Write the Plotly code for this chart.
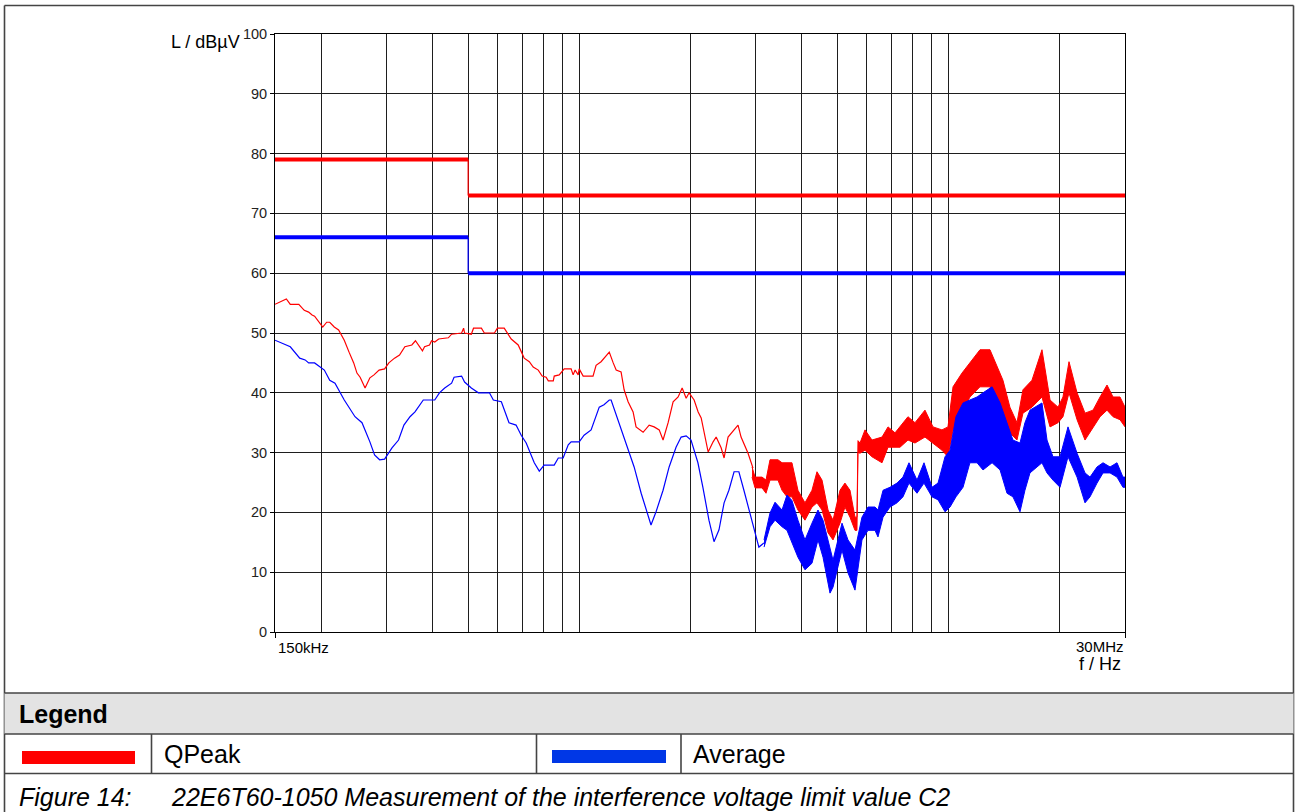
import math
import plotly.graph_objects as go

# ---------------------------------------------------------------------------
# Measured interference voltage (frequency in MHz, level in dBµV)
# ---------------------------------------------------------------------------
qp_freq_mhz = [0.150, 0.161, 0.165, 0.174, 0.180, 0.185, 0.189, 0.192, 0.202, 0.207,
               0.211, 0.217, 0.223, 0.231, 0.238, 0.245, 0.250, 0.255, 0.263, 0.271,
               0.278, 0.287, 0.297, 0.305, 0.316, 0.326, 0.337, 0.352, 0.360, 0.367,
               0.376, 0.381, 0.393, 0.398, 0.406, 0.416, 0.442, 0.451, 0.480, 0.486,
               0.489, 0.510, 0.517, 0.543, 0.553, 0.589, 0.600, 0.626, 0.642, 0.654,
               0.683, 0.696, 0.709, 0.732, 0.750, 0.774, 0.793, 0.813, 0.824, 0.850,
               0.855, 0.882, 0.910, 0.950, 0.962, 0.974, 0.993, 0.999, 1.024, 1.089,
               1.110, 1.145, 1.166, 1.205, 1.235, 1.258, 1.297, 1.322, 1.355, 1.398,
               1.424, 1.488, 1.545, 1.594, 1.645, 1.685, 1.739, 1.794, 1.851, 1.898,
               1.946, 1.982, 2.045, 2.097, 2.137, 2.232, 2.302, 2.346, 2.420, 2.465,
               2.527, 2.623, 2.689, 2.740, 2.862, 2.952]
qp_level_dbuv = [54.8, 55.7, 54.8, 54.8, 53.8, 53.5, 53.0, 52.8, 51.0, 51.8,
                 51.8, 51.0, 50.5, 48.8, 46.8, 45.0, 43.3, 42.6, 40.8, 42.5,
                 43.0, 43.8, 44.0, 45.0, 45.8, 46.3, 47.7, 48.0, 48.7, 48.0,
                 47.0, 47.7, 48.0, 48.7, 48.5, 49.0, 49.2, 49.8, 50.0, 50.8,
                 50.0, 49.8, 50.8, 50.8, 50.0, 50.0, 50.8, 50.8, 49.7, 49.0,
                 48.0, 46.8, 45.8, 45.2, 44.3, 43.8, 42.8, 42.6, 42.0, 42.0,
                 42.8, 43.0, 44.0, 44.0, 43.0, 43.8, 43.0, 44.0, 42.8, 42.8,
                 44.6, 45.2, 45.8, 46.8, 45.0, 43.8, 43.5, 40.5, 38.5, 36.8,
                 34.3, 33.4, 34.6, 34.3, 33.8, 32.1, 35.0, 38.5, 39.3, 40.8,
                 39.1, 40.0, 38.8, 36.8, 35.8, 30.1, 31.8, 32.6, 30.8, 29.1,
                 32.6, 33.8, 34.6, 32.6, 29.9, 27.4]

# Above ~3 MHz the quasi-peak trace fluctuates strongly: upper / lower envelope
qp_band_freq_mhz = [2.934, 2.990, 3.123, 3.201, 3.282, 3.449, 3.537, 3.648, 3.763, 3.906,
                    4.081, 4.263, 4.398, 4.539, 4.711, 4.861, 5.077, 5.236, 5.403, 5.574,
                    5.643, 5.679, 5.751, 5.933, 6.197, 6.597, 6.849, 7.154, 7.379, 7.756,
                    8.102, 8.623, 9.064, 9.586, 9.952, 10.27, 10.86, 11.41, 12.15, 12.93,
                    13.51, 14.02, 14.64, 15.30, 15.88, 16.80, 17.88, 18.80, 19.76, 20.38,
                    21.16, 22.25, 23.38, 24.58, 25.68, 26.82, 27.84, 29.08, 30.0]
qp_band_upper = [27.6, 25.9, 25.9, 25.4, 28.8, 28.8, 28.3, 28.3, 28.3, 23.7,
                 21.6, 23.7, 26.8, 25.4, 20.4, 18.7, 23.7, 24.9, 23.7, 19.2,
                 19.2, 32.0, 31.6, 33.8, 32.1, 32.6, 34.3, 33.3, 34.3, 36.0,
                 35.0, 37.1, 34.3, 33.8, 34.3, 41.0, 43.3, 45.0, 47.2, 47.2,
                 44.3, 42.1, 37.6, 35.0, 40.5, 42.1, 47.2, 38.8, 37.6, 39.3,
                 45.2, 40.0, 36.6, 37.1, 39.3, 41.3, 39.3, 39.3, 37.6]
qp_band_lower = [25.9, 24.1, 24.1, 23.2, 25.4, 25.4, 23.7, 22.6, 22.6, 20.4,
                 18.7, 20.9, 21.6, 20.4, 16.6, 15.4, 18.2, 20.9, 19.2, 17.0,
                 17.0, 30.0, 29.9, 30.4, 29.3, 28.3, 30.9, 30.9, 30.9, 32.1,
                 31.6, 32.6, 31.6, 30.4, 29.3, 33.8, 36.6, 39.3, 41.0, 41.0,
                 37.6, 36.0, 33.3, 32.1, 36.6, 37.6, 39.3, 34.3, 35.0, 36.0,
                 40.0, 35.5, 32.1, 34.3, 36.0, 37.1, 36.0, 35.5, 34.3]

av_freq_mhz = [0.150, 0.160, 0.165, 0.175, 0.181, 0.185, 0.192, 0.204, 0.211, 0.218,
               0.231, 0.247, 0.258, 0.271, 0.279, 0.288, 0.297, 0.311, 0.324, 0.335,
               0.348, 0.359, 0.378, 0.406, 0.418, 0.432, 0.451, 0.458, 0.480, 0.489,
               0.510, 0.533, 0.571, 0.585, 0.615, 0.645, 0.674, 0.696, 0.718, 0.755,
               0.779, 0.803, 0.855, 0.877, 0.904, 0.933, 0.950, 0.999, 1.030, 1.076,
               1.132, 1.166, 1.205, 1.219, 1.258, 1.322, 1.407, 1.470, 1.535, 1.563,
               1.613, 1.685, 1.750, 1.827, 1.886, 1.946, 2.006, 2.094, 2.160, 2.243,
               2.315, 2.388, 2.465, 2.540, 2.623, 2.703, 2.789, 2.952, 3.062, 3.160]
av_level_dbuv = [48.8, 48.0, 47.7, 45.8, 45.5, 45.0, 45.0, 43.8, 42.1, 41.6,
                 38.8, 36.0, 35.0, 31.8, 29.6, 28.8, 28.9, 30.8, 32.1, 34.6,
                 36.0, 36.8, 38.8, 38.8, 40.0, 40.8, 41.6, 42.6, 42.8, 41.8,
                 40.8, 40.0, 40.0, 38.8, 38.5, 35.0, 34.6, 32.9, 31.6, 28.3,
                 26.9, 27.9, 27.9, 29.1, 29.1, 31.3, 31.8, 31.8, 32.9, 33.8,
                 37.6, 38.0, 38.8, 38.8, 36.3, 32.6, 27.6, 23.2, 19.2, 17.9,
                 20.1, 23.7, 27.6, 30.9, 32.6, 32.8, 32.1, 28.3, 24.2, 18.7,
                 15.1, 17.1, 21.6, 23.7, 26.8, 26.8, 23.7, 18.2, 14.2, 14.9]

# Above ~3 MHz the average trace fluctuates strongly: upper / lower envelope
av_band_freq_mhz = [3.162, 3.282, 3.386, 3.537, 3.648, 3.763, 3.906, 4.081, 4.263, 4.426,
                    4.567, 4.770, 4.861, 5.141, 5.336, 5.574, 5.822, 6.044, 6.315, 6.433,
                    6.639, 6.934, 7.243, 7.518, 7.805, 8.205, 8.571, 9.009, 9.352, 9.771,
                    10.08, 10.46, 10.93, 11.41, 11.93, 12.38, 13.10, 13.77, 14.38, 14.92,
                    15.59, 16.08, 16.59, 17.88, 18.45, 19.15, 20.01, 21.03, 22.25, 23.38,
                    24.12, 25.20, 26.16, 27.33, 28.54, 29.62, 30.0]
av_band_upper = [15.4, 19.9, 21.7, 20.4, 22.9, 22.0, 18.7, 15.4, 18.2, 20.4,
                 18.7, 13.7, 12.0, 18.2, 15.4, 13.7, 19.2, 20.9, 20.9, 20.4,
                 23.7, 24.2, 24.9, 25.9, 28.3, 25.4, 28.3, 24.2, 24.9, 29.3,
                 30.4, 36.0, 38.3, 38.8, 39.3, 40.0, 41.0, 38.3, 35.0, 32.1,
                 31.6, 35.0, 37.1, 38.3, 32.1, 29.3, 29.3, 34.3, 29.9, 26.6,
                 25.9, 27.6, 28.3, 27.6, 28.3, 25.9, 25.9]
av_band_lower = [14.2, 17.6, 18.7, 17.6, 17.0, 14.9, 12.5, 10.4, 11.5, 15.4,
                 12.5, 6.5, 7.5, 13.7, 9.9, 7.0, 15.4, 17.0, 17.0, 15.9,
                 19.2, 20.9, 21.6, 22.6, 24.9, 23.2, 24.9, 22.6, 22.1, 20.1,
                 20.9, 22.6, 24.2, 28.3, 28.3, 27.1, 28.3, 27.1, 23.2, 22.6,
                 20.1, 23.7, 26.6, 28.3, 26.6, 25.4, 24.2, 29.3, 25.9, 21.6,
                 22.6, 24.9, 26.6, 26.6, 25.9, 24.2, 24.2]

# Limit value class C2 (step at 500 kHz)
limit_edges_mhz = [0.15, 0.5, 30.0]
qp_limit_dbuv = [79, 73]
av_limit_dbuv = [66, 60]

# Axis
grid_freq_mhz = [0.2, 0.3, 0.4, 0.5, 0.6, 0.7, 0.8, 0.9, 1.0,
                 2, 3, 4, 5, 6, 7, 8, 9, 10, 20]
level_ticks = [0, 10, 20, 30, 40, 50, 60, 70, 80, 90, 100]
freq_min_mhz, freq_max_mhz = 0.15, 30.0
freq_tick_labels = ["150kHz", "30MHz"]

RED = "#ff0000"
BLUE = "#0000ff"
GRID = "#1e1e1e"
FRAME = "#444444"
FONT = "Arial, Liberation Sans, sans-serif"

FIG_W, FIG_H = 1297, 812
PLOT_L, PLOT_R, PLOT_T, PLOT_B = 275, 1125, 34, 632


def fx(px):
    """page pixel column -> paper x"""
    return (px - PLOT_L) / (PLOT_R - PLOT_L)


def fy(py):
    """page pixel row -> paper y"""
    return (PLOT_B - py) / (PLOT_B - PLOT_T)


fig = go.Figure()


def add_band(freq, upper, lower, color):
    fig.add_trace(go.Scatter(x=freq, y=upper, mode="lines",
                             line=dict(color=color, width=1),
                             hoverinfo="skip", showlegend=False))
    fig.add_trace(go.Scatter(x=freq, y=lower, mode="lines",
                             line=dict(color=color, width=1),
                             fill="tonexty", fillcolor=color,
                             hoverinfo="skip", showlegend=False))


# quasi-peak measurement
fig.add_trace(go.Scatter(x=qp_freq_mhz, y=qp_level_dbuv, mode="lines",
                         line=dict(color=RED, width=1.2),
                         hoverinfo="skip", showlegend=False))
add_band(qp_band_freq_mhz, qp_band_upper, qp_band_lower, RED)

# average measurement
fig.add_trace(go.Scatter(x=av_freq_mhz, y=av_level_dbuv, mode="lines",
                         line=dict(color=BLUE, width=1.2),
                         hoverinfo="skip", showlegend=False))
add_band(av_band_freq_mhz, av_band_upper, av_band_lower, BLUE)


def add_limit(levels, color):
    e0, e1, e2 = limit_edges_mhz
    # thin step between the two ranges
    fig.add_trace(go.Scatter(x=[e1, e1], y=[levels[0], levels[1]], mode="lines",
                             line=dict(color=color, width=1.2),
                             hoverinfo="skip", showlegend=False))
    # thick horizontal limit segments
    fig.add_trace(go.Scatter(x=[e0, e1, None, e1, e2],
                             y=[levels[0], levels[0], None, levels[1], levels[1]],
                             mode="lines", line=dict(color=color, width=4),
                             hoverinfo="skip", showlegend=False))


add_limit(qp_limit_dbuv, RED)
add_limit(av_limit_dbuv, BLUE)

shapes = []
annotations = []


def line(x0, y0, x1, y1, color=FRAME, width=1.6):
    shapes.append(dict(type="line", xref="paper", yref="paper",
                       x0=fx(x0), y0=fy(y0), x1=fx(x1), y1=fy(y1),
                       line=dict(color=color, width=width), layer="above"))


def rect(x0, y0, x1, y1, fill, color=None, width=0):
    shapes.append(dict(type="rect", xref="paper", yref="paper",
                       x0=fx(x0), y0=fy(y0), x1=fx(x1), y1=fy(y1),
                       fillcolor=fill, line=dict(color=color or fill, width=width),
                       layer="above"))


def text(s, x, y, size, anchor="left", bold=False, italic=False, color="#000000"):
    if bold:
        s = "<b>" + s + "</b>"
    if italic:
        s = "<i>" + s + "</i>"
    annotations.append(dict(text=s, xref="paper", yref="paper", x=fx(x), y=fy(y),
                            xanchor=anchor, yanchor="middle", showarrow=False,
                            font=dict(family=FONT, size=size, color=color)))


# page frame around chart and legend table
line(4.5, 5.5, 1293.5, 5.5)
line(4.5, 5.5, 4.5, 812)
line(1293.5, 5.5, 1293.5, 812)

# legend header row
rect(4.5, 693, 1293.5, 734, "#e3e3e3")
line(4.5, 693, 1293.5, 693)
line(4.5, 734, 1293.5, 734)
line(4.5, 773.5, 1293.5, 773.5)
for xdiv in (151.5, 536.5, 681):
    line(xdiv, 734, xdiv, 773.5)

# legend swatches
rect(22, 751, 135, 764, RED)
rect(552, 750, 666, 763, "#0037e6")

text("Legend", 17, 714, 25, bold=True)
text("QPeak", 162, 754, 25)
text("Average", 691, 754, 25)
text("Figure 14:", 17, 797, 25, italic=True)
text("22E6T60-1050 Measurement of the interference voltage limit value C2",
     169, 797, 25, italic=True)

# axis titles and end labels
text("L / dBµV", 242, 42, 18, anchor="right")
text(freq_tick_labels[0], 275.5, 647, 15)
text(freq_tick_labels[1], 1126, 646, 15, anchor="right")
text("f / Hz", 1123, 664, 18, anchor="right")

fig.update_layout(
    width=FIG_W, height=FIG_H, autosize=False,
    margin=dict(l=PLOT_L, r=FIG_W - PLOT_R, t=PLOT_T, b=FIG_H - PLOT_B, pad=0),
    paper_bgcolor="white", plot_bgcolor="white",
    font=dict(family=FONT, color="#000000"),
    showlegend=False,
    shapes=shapes, annotations=annotations,
    xaxis=dict(type="log",
               range=[math.log10(freq_min_mhz), math.log10(freq_max_mhz)],
               tickvals=[freq_min_mhz, freq_max_mhz], ticks="outside", ticklen=5,
               tickcolor="#000000", showticklabels=False,
               showgrid=False, zeroline=False,
               showline=True, linecolor="#000000", linewidth=1, mirror=True,
               minor=dict(tickvals=grid_freq_mhz, showgrid=True,
                          gridcolor=GRID, gridwidth=1, ticks="")),
    yaxis=dict(range=[0, 100], tickvals=level_ticks, ticks="outside", ticklen=4,
               tickcolor="#000000", tickfont=dict(family=FONT, size=14.5, color="#222222"),
               showgrid=True, gridcolor=GRID, gridwidth=1, zeroline=False,
               showline=True, linecolor="#000000", linewidth=1, mirror=True),
)

fig.write_html("out.html", config={"displayModeBar": False})
